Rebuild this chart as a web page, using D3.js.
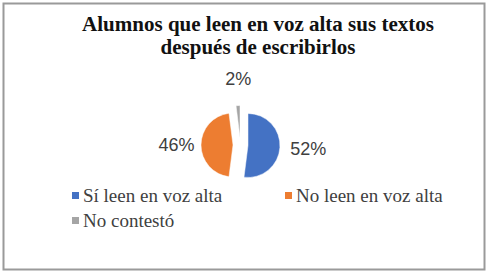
<!DOCTYPE html>
<html lang="es">
<head>
<meta charset="UTF-8">
<title>Alumnos que leen en voz alta</title>
<style>
  body { margin: 0; background: #fff; }
  svg { display: block; }
  .serif { font-family: "Liberation Serif", "Times New Roman", serif; }
  .sans { font-family: "Liberation Sans", Arial, sans-serif; }
</style>
</head>
<body>
<script src="https://d3js.org/d3.v7.min.js"></script>
<div id="chart"></div>
<script>
// data
const categories = ["Sí leen en voz alta", "No leen en voz alta", "No contestó"];
const values = [52, 46, 2];
const colors = ["#4472C4", "#ED7D31", "#A5A5A5"];
const titleLines = ["Alumnos que leen en voz alta sus textos", "después de escribirlos"];

const W = 488, H = 274;

const svg = d3.select("#chart")
  .append("svg")
  .attr("width", W)
  .attr("height", H);

// frame
svg.append("rect")
  .attr("x", 3.5).attr("y", 3.5)
  .attr("width", 481).attr("height", 266)
  .attr("fill", "#fff")
  .attr("stroke", "#9a9a9a")
  .attr("stroke-width", 2);

// title
svg.append("g")
  .selectAll("text")
  .data(titleLines)
  .join("text")
  .attr("class", "serif")
  .attr("x", 258)
  .attr("y", (d, i) => 31 + i * 23)
  .attr("text-anchor", "middle")
  .style("font-size", "21px")
  .style("font-weight", "bold")
  .style("fill", "#111")
  .text(d => d);

// pie
const cx = 240.5, cy = 145, r = 32, explode = 7.5;
const pie = d3.pie().sort(null).value(d => d)(values);
const arc = d3.arc().innerRadius(0).outerRadius(r);
const labelArc = d3.arc().innerRadius(66).outerRadius(66);

const g = svg.append("g").attr("transform", `translate(${cx},${cy})`);

g.selectAll("path")
  .data(pie)
  .join("path")
  .attr("d", arc)
  .attr("fill", (d, i) => colors[i])
  .attr("stroke", "#fff")
  .attr("stroke-width", 0.5)
  .attr("transform", d => {
    const a = (d.startAngle + d.endAngle) / 2;
    return `translate(${explode * Math.sin(a)},${-explode * Math.cos(a)})`;
  });

g.selectAll("text")
  .data(pie)
  .join("text")
  .attr("class", "sans")
  .attr("x", d => labelArc.centroid(d)[0] + 2)
  .attr("y", d => labelArc.centroid(d)[1])
  .attr("text-anchor", "middle")
  .attr("dominant-baseline", "central")
  .style("font-size", "18px")
  .style("fill", "#404040")
  .text(d => d.data + "%");

// legend
const legendPos = [[72, 202], [285, 202], [72, 227]];
const lg = svg.append("g")
  .selectAll("g")
  .data(categories)
  .join("g")
  .attr("transform", (d, i) => `translate(${legendPos[i][0]},${legendPos[i][1]})`);

lg.append("rect")
  .attr("x", 0).attr("y", -10)
  .attr("width", 7).attr("height", 7)
  .attr("fill", (d, i) => colors[i]);

lg.append("text")
  .attr("class", "serif")
  .attr("x", 11)
  .attr("y", 0)
  .style("font-size", "19px")
  .style("fill", "#404040")
  .text(d => d);
</script>
</body>
</html>
